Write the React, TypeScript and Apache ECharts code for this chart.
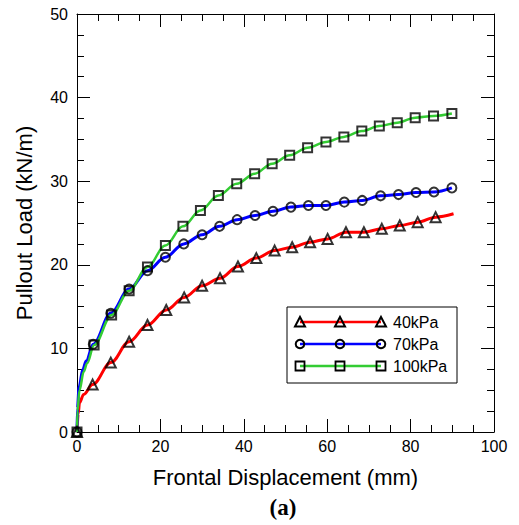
import React, { useEffect, useRef } from "react";
import * as echarts from "echarts";

// 40 kPa
const markerDisp40 = [0, 3.75, 8.1, 12.5, 16.9, 21.4, 25.7, 30.0, 34.3, 38.6, 43.0, 47.4, 51.6, 55.9, 60.1, 64.5, 68.8, 73.1, 77.4, 81.7, 86.0];
const markerLoad40 = [0, 5.67, 8.3, 10.8, 12.8, 14.6, 16.1, 17.5, 18.4, 19.8, 20.8, 21.7, 22.1, 22.7, 23.1, 23.9, 23.9, 24.3, 24.7, 25.1, 25.7];
const headDisp40 = [0.3, 0.6, 1.6];
const headLoad40 = [2.2, 3.5, 4.5];
const tailDisp40 = [90.3];
const tailLoad40 = [26.1];

// 70 kPa
const markerDisp70 = [0, 3.9, 8.1, 12.5, 16.9, 21.2, 25.6, 30.0, 34.2, 38.4, 42.7, 47.0, 51.3, 55.5, 59.7, 64.1, 68.4, 72.8, 77.1, 81.3, 85.6, 89.9];
const markerLoad70 = [0, 10.5, 14.2, 17.1, 19.3, 20.9, 22.5, 23.6, 24.6, 25.4, 25.9, 26.4, 26.9, 27.1, 27.1, 27.5, 27.7, 28.25, 28.4, 28.65, 28.7, 29.2];
const headDisp70 = [0.1, 0.5, 1.4, 2.2];
const headLoad70 = [2.8, 5.4, 7.5, 8.5];

// 100 kPa
const markerDisp100 = [0, 4.1, 8.3, 12.5, 16.9, 21.2, 25.4, 29.6, 33.9, 38.3, 42.6, 46.8, 51.0, 55.3, 59.7, 64.0, 68.3, 72.5, 76.8, 81.1, 85.5, 89.9];
const markerLoad100 = [0, 10.4, 14.0, 16.9, 19.75, 22.3, 24.6, 26.5, 28.3, 29.7, 30.9, 32.1, 33.1, 34.0, 34.7, 35.3, 36.0, 36.6, 37.0, 37.6, 37.8, 38.1];
const headDisp100 = [0.1, 0.6, 1.6, 2.4];
const headLoad100 = [2.5, 5.0, 7.2, 8.2];

const seriesNames = ["40kPa", "70kPa", "100kPa"];
const xTickLabels = ["0", "20", "40", "60", "80", "100"];
const yTickLabels = ["0", "10", "20", "30", "40", "50"];

const pairs = (xs: number[], ys: number[]) => xs.map((x, i) => [x, ys[i]]);
const curve = (...parts: number[][][]) =>
  parts.flat().sort((a, b) => a[0] - b[0]);

const FONT = "Liberation Sans, Arial, Helvetica, sans-serif";

export default function App() {
  const ref = useRef<HTMLDivElement>(null);
  useEffect(() => {
    if (!ref.current) return;
    const chart = echarts.init(ref.current, null, { renderer: "svg" });

    const axisCommon = {
      axisLine: { show: true, onZero: false, lineStyle: { color: "#000", width: 1 } },
      axisTick: { show: true, inside: true, length: 13, lineStyle: { color: "#000", width: 1 } },
      minorTick: { show: true, splitNumber: 4, length: 7, lineStyle: { color: "#000", width: 1 } },
      splitLine: { show: false },
      minorSplitLine: { show: false },
    };

    const lineSeries = (name: string, data: number[][], color: string, width: number) => ({
      name,
      type: "line",
      data,
      smooth: 0.35,
      smoothMonotone: "x",
      showSymbol: false,
      symbol: "none",
      lineStyle: { color, width },
      z: 2,
    });
    const markerSeries = (name: string, data: number[][], symbol: string, size: number) => ({
      name: name + " markers",
      type: "scatter",
      data,
      symbol,
      symbolSize: size,
      itemStyle: { color: "none", borderColor: "#000", borderWidth: 2 },
      z: 3,
    });

    const m40 = pairs(markerDisp40, markerLoad40);
    const m70 = pairs(markerDisp70, markerLoad70);
    const m100 = pairs(markerDisp100, markerLoad100);

    // legend graphic
    const lx0 = 300, lx1 = 381, lxm = 340;
    const rows = [322, 344, 366];
    const colors = ["#ff0000", "#0000ff", "#33cc33"];
    const legendEls: any[] = [
      {
        type: "rect",
        shape: { x: 287, y: 307, width: 170, height: 76 },
        style: { fill: "#fff", stroke: "#000", lineWidth: 1 },
      },
    ];
    rows.forEach((y, i) => {
      legendEls.push({
        type: "line",
        shape: { x1: lx0, y1: y, x2: lx1, y2: y },
        style: { stroke: colors[i], lineWidth: 2.5 },
      });
      [lx0, lxm, lx1].forEach((cx) => {
        if (i === 0) {
          legendEls.push({
            type: "polygon",
            shape: { points: [[cx, y - 5], [cx + 5, y + 4.5], [cx - 5, y + 4.5]] },
            style: { fill: "none", stroke: "#000", lineWidth: 2 },
          });
        } else if (i === 1) {
          legendEls.push({
            type: "circle",
            shape: { cx, cy: y, r: 4.3 },
            style: { fill: "none", stroke: "#000", lineWidth: 2 },
          });
        } else {
          legendEls.push({
            type: "rect",
            shape: { x: cx - 4.5, y: y - 4.5, width: 9, height: 9 },
            style: { fill: "none", stroke: "#000", lineWidth: 1.8 },
          });
        }
      });
      legendEls.push({
        type: "text",
        x: 393,
        y,
        style: {
          text: seriesNames[i],
          fill: "#000",
          font: `16px ${FONT}`,
          textVerticalAlign: "middle",
          textAlign: "left",
        },
      });
    });

    chart.setOption({
      animation: false,
      backgroundColor: "#fff",
      grid: { left: 77, right: 25, top: 14, bottom: 93, containLabel: false },
      xAxis: [
        {
          ...axisCommon,
          type: "value",
          position: "bottom",
          min: 0,
          max: 100,
          interval: 20,
          name: "Frontal Displacement (mm)",
          nameLocation: "middle",
          nameGap: 34,
          nameTextStyle: { fontFamily: FONT, fontSize: 22, color: "#000" },
          axisLabel: {
            show: true,
            margin: 6,
            fontFamily: FONT,
            fontSize: 16,
            color: "#000",
            formatter: (v: number) => xTickLabels[Math.round(v / 20)] ?? "",
          },
        },
        {
          ...axisCommon,
          type: "value",
          position: "top",
          min: 0,
          max: 100,
          interval: 20,
          axisLabel: { show: false },
        },
      ],
      yAxis: [
        {
          ...axisCommon,
          type: "value",
          position: "left",
          min: 0,
          max: 50,
          interval: 10,
          name: "Pullout Load (kN/m)",
          nameLocation: "middle",
          nameGap: 42,
          nameTextStyle: { fontFamily: FONT, fontSize: 22, color: "#000" },
          axisLabel: {
            show: true,
            margin: 9,
            fontFamily: FONT,
            fontSize: 16,
            color: "#000",
            formatter: (v: number) => yTickLabels[Math.round(v / 10)] ?? "",
          },
        },
        {
          ...axisCommon,
          type: "value",
          position: "right",
          min: 0,
          max: 50,
          interval: 10,
          axisLabel: { show: false },
        },
      ],
      series: [
        lineSeries(seriesNames[0], curve(pairs(headDisp40, headLoad40), m40, pairs(tailDisp40, tailLoad40)), "#ff0000", 3),
        lineSeries(seriesNames[1], curve(pairs(headDisp70, headLoad70), m70), "#0000ff", 3),
        lineSeries(seriesNames[2], curve(pairs(headDisp100, headLoad100), m100), "#33cc33", 2.5),
        markerSeries(seriesNames[0], m40, "triangle", 10),
        markerSeries(seriesNames[1], m70, "circle", 9),
        markerSeries(seriesNames[2], m100, "rect", 9),
      ],
      graphic: [
        { type: "group", z: 100, children: legendEls },
        {
          type: "text",
          z: 100,
          x: 283,
          y: 507,
          style: {
            text: "(a)",
            fill: "#000",
            font: "bold 23px Liberation Serif, Times New Roman, serif",
            textAlign: "center",
            textVerticalAlign: "middle",
          },
        },
      ],
    });
    return () => chart.dispose();
  }, []);
  return (
    <div
      ref={ref}
      style={{ position: "fixed", left: 0, top: 0, width: 519, height: 525, background: "#fff" }}
    />
  );
}
